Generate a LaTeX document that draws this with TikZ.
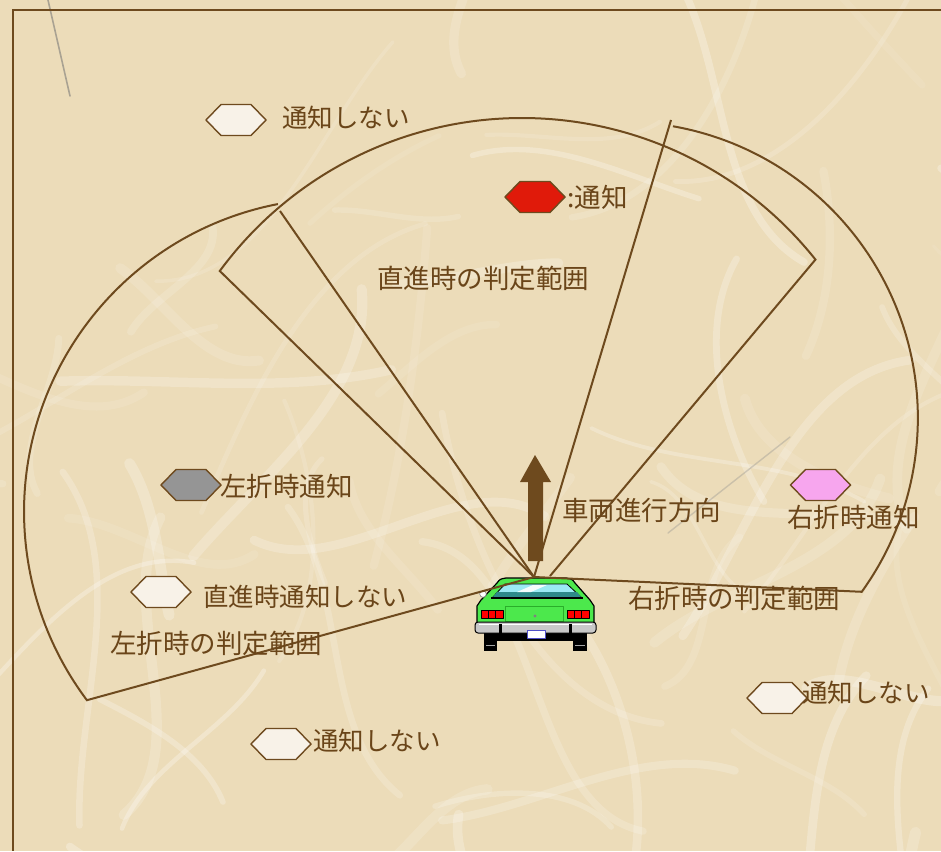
\documentclass[tikz,border=0pt]{standalone}
\usepackage{fontspec}
\newfontfamily\jpfont{Noto Sans CJK JP}
\usetikzlibrary{calc}

\definecolor{paper}{HTML}{ECDCB9}
\definecolor{rule}{HTML}{6E4A1E}
\definecolor{ink}{HTML}{6A4519}
\definecolor{cream}{HTML}{F8F2E8}
\definecolor{alertred}{HTML}{E01A0A}
\definecolor{leftgray}{HTML}{959595}
\definecolor{rightpink}{HTML}{F7A6EE}
\definecolor{carGreen}{HTML}{4CE84C}
\definecolor{trunkline}{HTML}{2AAE2A}
\definecolor{glass}{HTML}{9BEAF4}
\definecolor{glassdark}{HTML}{2E8A8A}
\definecolor{bumper}{HTML}{C9C9C9}
\definecolor{plateblue}{HTML}{5050C8}

\tikzset{
  zone/.style={draw=rule, line width=2},
  label/.style={text=ink, font=\jpfont\fontsize{26.5}{29}\selectfont, inner sep=0pt, anchor=west},
  kanalabel/.style={label, font=\jpfont\fontsize{25.5}{28}\selectfont},
  hexline/.style={draw=rule, line width=1.4, line join=miter},
}

% flat hexagon marker: centre x, centre y, fill colour
\newcommand\hexmark[3]{%
  \filldraw[hexline, fill=#3] (#1-30,#2) -- (#1-15,#2-15.5) -- (#1+15,#2-15.5)
    -- (#1+30,#2) -- (#1+15,#2+15.5) -- (#1-15,#2+15.5) -- cycle;}

\begin{document}
\begin{tikzpicture}[x=1pt, y=-1pt]
\useasboundingbox (0,0) rectangle (941,851);

% paper background with soft light fibres
\fill[paper] (0,0) rectangle (941,851);
\begin{scope}
  \clip (0,0) rectangle (941,851);
  \pgfmathsetseed{314}
  \foreach \k in {1,...,65}{
    \pgfmathsetmacro\fibx{rnd*941}
    \pgfmathsetmacro\fiby{rnd*851}
    \pgfmathsetmacro\fibt{rnd*360}
    \pgfmathsetmacro\fibl{120+rnd*260}
    \pgfmathsetmacro\fibw{3+rnd*8}
    \pgfmathsetmacro\fibo{0.08+rnd*0.2}
    \pgfmathsetmacro\fibta{\fibt+rand*50}
    \pgfmathsetmacro\fibtb{\fibt+180+rand*50}
    \pgfmathsetmacro\fibex{\fibx+\fibl*cos(\fibt)}
    \pgfmathsetmacro\fibey{\fiby+\fibl*sin(\fibt)}
    \draw[white, line width=\fibw, opacity=\fibo, line cap=round]
      (\fibx,\fiby) .. controls +(\fibta:\fibl/3) and +(\fibtb:\fibl/3) .. (\fibex,\fibey);
  }
  \draw[black!55, opacity=0.55, line width=1.6, line cap=round] (48,0) -- (70,96);
  \draw[black!45, opacity=0.35, line width=1.4, line cap=round] (668,533) -- (790,437);
\end{scope}

% frame
\draw[rule, line width=2] (941,10) -- (13,10) -- (13,851);

% direction arrow
\fill[rule] (535,455) -- (551,482) -- (543,482) -- (543,561) -- (528,561)
  -- (528,482) -- (520,482) -- cycle;

% car seen from behind
\begin{scope}[line join=round]
  \fill[black] (484,628) rectangle (497,651);
  \fill[black] (573,628) rectangle (587,651);
  \fill[black] (490,630) rectangle (580,641);
  \draw[gray!70, line width=0.6] (486,645) -- (495,645) (575,645) -- (585,645);
  \filldraw[fill=carGreen, draw=black, line width=1.2]
    (477,623) -- (477,606) -- (481,600) -- (497,583) .. controls (500,579) .. (506,578)
    -- (566,578) .. controls (572,579) .. (575,583) -- (590,600) -- (594,606) -- (594,623) -- cycle;
  \filldraw[fill=glass, draw=black, line width=0.8] (493,597) -- (505,584) -- (567,584) -- (581,597) -- cycle;
  \fill[glassdark] (497,592) -- (577,592) -- (581,597) -- (493,597) -- cycle;
  \fill[white, opacity=0.9] (517,592) -- (533,585) -- (547,585) -- (531,592) -- cycle;
  \draw[black, line width=1.6] (491,598) -- (583,598);
  \draw[trunkline, line width=0.9] (505,606) -- (563,606) -- (563,621) -- (505,621) -- cycle;
  \fill[gray] (535,616) circle (1.6);
  \filldraw[fill=red, draw=black, line width=0.6] (481,610) rectangle (503,618);
  \filldraw[fill=red, draw=black, line width=0.6] (567,610) rectangle (589,618);
  \draw[black, line width=0.5] (488,610) -- (488,618) (495,610) -- (495,618)
    (574,610) -- (574,618) (581,610) -- (581,618);
  \filldraw[fill=bumper, draw=black, line width=1, rounded corners=3] (475,622) rectangle (596,633);
  \draw[white, line width=1] (479,624.5) -- (592,624.5);
  \fill[black] (499,624) rectangle (502,637);
  \fill[black] (569,624) rectangle (572,637);
  \filldraw[fill=white, draw=plateblue, line width=0.8] (527,630) rectangle (545,638);
  \filldraw[fill=white, draw=gray, line width=0.6] (483,594) circle (3.3);
\end{scope}

% sector geometry
\coordinate (apex) at (534,577);
\coordinate (apexR) at (550,576);
\coordinate (cS) at (522,493);
\coordinate (cL) at (337.7,511.9);
\coordinate (cR) at (621.2,418.3);

% straight-ahead range
\draw[zone] (apex) -- ($(cS)+(143.7:375pt)$) arc[start angle=143.7, end angle=38.5, radius=375pt] -- (apexR);
% left-turn range
\draw[zone] (apex) -- (280,211);
\draw[zone] ($(cL)+(101:313.6pt)$) arc[start angle=101, end angle=216.9, radius=313.6pt] -- (apex);
% right-turn range
\draw[zone] (apex) -- (671,120);
\draw[zone] ($(cR)+(79.95:296.6pt)$) arc[start angle=79.95, end angle=-35.8, radius=296.6pt] -- (apex);

% markers
\hexmark{236}{120}{cream}
\hexmark{535}{197}{alertred}
\hexmark{191}{485}{leftgray}
\hexmark{820.5}{485}{rightpink}
\hexmark{161}{592}{cream}
\hexmark{281}{744}{cream}
\hexmark{777}{698}{cream}

% labels
\node[kanalabel] (nA) at (282,118) {通知しない};
\node[label] (key) at (567,197) {:通知};
\node[label] (zoneS) at (377,278) {直進時の判定範囲};
\node[label] (leftN) at (220,486) {左折時通知};
\node[label] (dir) at (562,510) {車両進行方向};
\node[label] (rightN) at (787,517) {右折時通知};
\node[kanalabel] (straightN) at (203,597) {直進時通知しない};
\node[label] (zoneR) at (628,598) {右折時の判定範囲};
\node[label] (zoneL) at (110,643) {左折時の判定範囲};
\node[kanalabel] (nB) at (313,741) {通知しない};
\node[kanalabel] (nC) at (802,693) {通知しない};
\end{tikzpicture}
\end{document}
